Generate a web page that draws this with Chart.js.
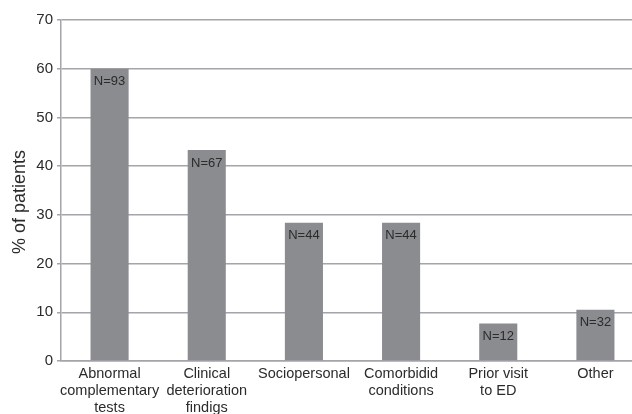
<!DOCTYPE html>
<html>
<head>
<meta charset="utf-8">
<script src="https://cdn.jsdelivr.net/npm/chart.js@4/dist/chart.umd.min.js"></script>
<style>
  html, body { margin: 0; padding: 0; background: #fff; overflow: hidden; }
  #wrap { width: 644px; height: 414px; }
</style>
</head>
<body>
<div id="wrap"><canvas id="c" width="644" height="414"></canvas></div>
<script>
// Reasons for admission, share of patients per category
const categories = [
  ["Abnormal", "complementary", "tests"],
  ["Clinical", "deterioration", "findigs"],
  ["Sociopersonal"],
  ["Comorbidid", "conditions"],
  ["Prior visit", "to ED"],
  ["Other"]
];
const percentPatients = [60, 43.3, 28.4, 28.4, 7.7, 10.5];
const countLabels = ["N=93", "N=67", "N=44", "N=44", "N=12", "N=32"];
const yTicks = [0, 10, 20, 30, 40, 50, 60, 70];

const FONT = "'Liberation Sans', Arial, Helvetica, sans-serif";
const TEXT = "#2b2b2b";
const GRID = "#a4a4aa";
const BAR = "#8b8c90";

// Writes the N= count just inside the top of each bar, and the y-axis title
const barNotes = {
  id: "barNotes",
  afterDatasetsDraw(chart) {
    const ctx = chart.ctx;
    const meta = chart.getDatasetMeta(0);
    ctx.save();
    ctx.font = "13px " + FONT;
    ctx.fillStyle = TEXT;
    ctx.textAlign = "center";
    ctx.textBaseline = "middle";
    meta.data.forEach((bar, i) => {
      ctx.fillText(countLabels[i], bar.x, bar.y + 13);
    });
    ctx.restore();

    ctx.save();
    ctx.font = "18px " + FONT;
    ctx.fillStyle = TEXT;
    ctx.textAlign = "center";
    ctx.textBaseline = "middle";
    ctx.translate(20, 202);
    ctx.rotate(-Math.PI / 2);
    ctx.fillText("% of patients", 0, 0);
    ctx.restore();
  }
};

new Chart(document.getElementById("c"), {
  type: "bar",
  data: {
    labels: categories,
    datasets: [{
      data: percentPatients,
      backgroundColor: BAR,
      borderWidth: 0,
      categoryPercentage: 1,
      barPercentage: 0.392
    }]
  },
  options: {
    responsive: false,
    animation: false,
    layout: { padding: { top: 20, right: 0, left: 0, bottom: 0 } },
    plugins: { legend: { display: false }, tooltip: { enabled: false } },
    scales: {
      x: {
        grid: { display: false, drawTicks: false },
        border: { display: true, color: GRID, width: 1.5 },
        ticks: {
          color: TEXT,
          font: { family: FONT, size: 14.5, lineHeight: 1.17 },
          padding: 5,
          maxRotation: 0,
          autoSkip: false
        },
        afterFit(s) { s.height = 53; }
      },
      y: {
        min: 0,
        max: 70,
        afterBuildTicks(s) { s.ticks = yTicks.map(v => ({ value: v })); },
        grid: { color: GRID, lineWidth: 1.5, tickLength: 4, drawTicks: true },
        border: { display: true, color: GRID, width: 1.5 },
        ticks: {
          color: TEXT,
          font: { family: FONT, size: 15 },
          padding: 4
        },
        afterFit(s) { s.width = 61; }
      }
    }
  },
  plugins: [barNotes]
});
</script>
</body>
</html>
